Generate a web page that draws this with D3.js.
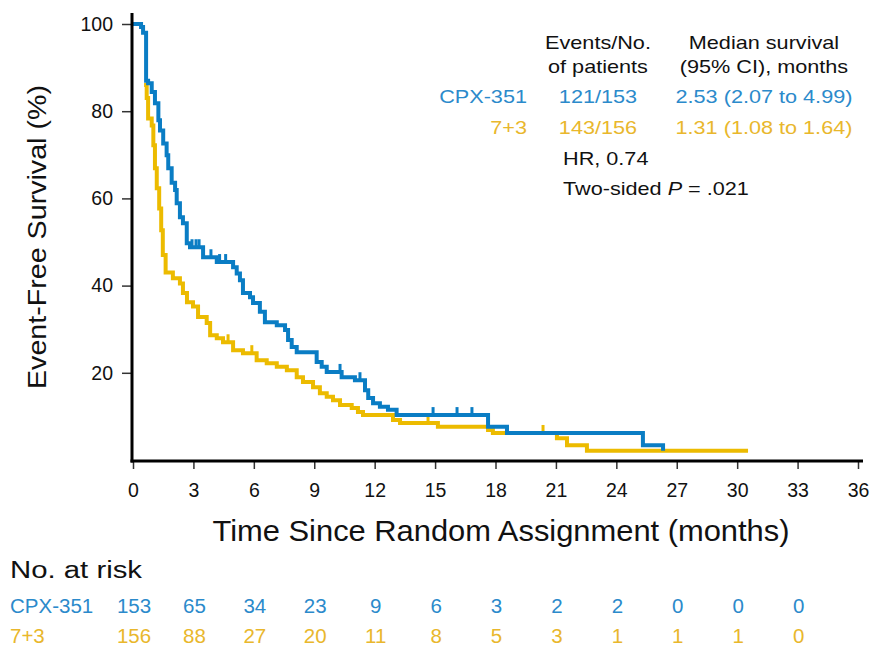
<!DOCTYPE html>
<html>
<head>
<meta charset="utf-8">
<script src="https://cdn.jsdelivr.net/npm/d3@7"></script>
<style>
  body { margin: 0; background: #fff; }
  svg { display: block; font-family: "Liberation Sans", Arial, Helvetica, sans-serif; }
</style>
</head>
<body>
<script>
// Event-free survival, CPX-351 vs 7+3

var blueColor = '#0a7dc4';
var yellowColor = '#ecbb00';
var blueText = '#2b8acb';
var yellowText = '#e9b72c';
var wide = 1.17; // the legend type is set a little wider than Arial

// CPX-351 curve: step times (months) and survival (%)
var cpxTimes = [0, 0.4, 0.5, 0.65, 0.75, 0.93, 1.09, 1.26, 1.34, 1.5, 1.67, 1.75, 1.92, 2.09, 2.17,
  2.33, 2.48, 2.67, 2.83, 3.48, 4.16, 4.97, 5.15, 5.31, 5.46, 5.81, 5.96, 6.3, 6.55, 7.14,
  7.55, 7.7, 7.88, 8.13, 9.12, 9.37, 9.62, 10.36, 11.02, 11.52, 11.68, 11.92, 12.26, 12.66,
  13.09, 17.63, 18.57, 25.32, 26.32];
var cpxSurv = [100, 99.3, 98, 87, 86.4, 84.4, 81.8, 77.9, 75.6, 72.6, 69.9, 66.9, 63.6, 61.9, 58.9,
  55.7, 54.3, 49.7, 48.8, 46.5, 45.4, 44.2, 42.8, 41.2, 38.3, 37.3, 36, 34, 31.6, 30.9,
  29.8, 27.5, 25.9, 24.7, 22.5, 21.4, 20.2, 19, 18.3, 16, 14.2, 13, 12.2, 11.5,
  10.3, 7.6, 6.2, 3.4, 2.1];
var cpxCensorTimes = [2.93, 3.13, 3.28, 3.87, 4.3, 4.6, 10.28, 11.27, 14.9, 16.09, 16.83];

// 7+3 curve
var ctlTimes = [0.55, 0.68, 0.75, 0.93, 1.01, 1.09, 1.18, 1.3, 1.4, 1.48, 1.62, 1.98, 2.33, 2.48,
  2.68, 2.98, 3.23, 3.66, 3.83, 4.16, 4.47, 4.97, 5.46, 6.14, 6.64, 7.14, 7.64, 8.13, 8.44,
  8.94, 9.28, 9.62, 9.93, 10.28, 10.86, 11.17, 11.42, 12.91, 13.26, 15.14, 17.63, 17.87,
  21.05, 21.55, 22.54, 30.54];
var ctlSurv = [86, 83, 78.3, 76.7, 72.2, 66.9, 62.3, 57.7, 52.7, 47, 43, 41.7, 40.5, 38.3,
  36.2, 35.2, 32.8, 31.4, 28.6, 27.9, 27, 25.2, 24.5, 22.9, 22.2, 21.4, 20.6, 19, 17.9,
  16.7, 15.3, 14.5, 13.7, 12.6, 11.9, 11, 10.3, 9.2, 8.5, 7.6, 6.9, 6.2,
  5.0, 3.4, 2.1, 2.1];
var ctlCensorTimes = [4.72, 5.9, 14.65, 20.36];

// ticks and risk table
var xTicks = d3.range(0, 37, 3);
var yTicks = [20, 40, 60, 80, 100];
var riskTimes = d3.range(0, 34, 3);
var riskCpx = [153, 65, 34, 23, 9, 6, 3, 2, 2, 0, 0, 0];
var riskCtl = [156, 88, 27, 20, 11, 8, 5, 3, 1, 1, 1, 0];

var width = 875, height = 646;

var svg = d3.select('body').append('svg')
  .attr('width', width)
  .attr('height', height);

var x = d3.scaleLinear().domain([0, 36]).range([133, 858]);
var y = d3.scaleLinear().domain([0, 100]).range([460, 24]);

// widen text glyphs by factor k (or to a fixed width)
var stretch = function(sel, k, w) {
  sel.each(function() {
    var n = this.getComputedTextLength();
    d3.select(this)
      .attr('textLength', w ? w : n * k)
      .attr('lengthAdjust', 'spacingAndGlyphs');
  });
};

// survival value at time t for a step curve
var survAt = function(times, surv, t) {
  var i = d3.bisectRight(times, t) - 1;
  return surv[Math.max(i, 0)];
};

var line = d3.line()
  .x(function(d) { return x(d[0]); })
  .y(function(d) { return y(d[1]); })
  .curve(d3.curveStepAfter);

svg.append('path')
  .attr('d', line(d3.zip(ctlTimes, ctlSurv)))
  .attr('fill', 'none')
  .attr('stroke', yellowColor)
  .attr('stroke-width', 4);

svg.selectAll('.ctlCensor')
  .data(ctlCensorTimes)
  .enter()
  .append('line')
  .attr('x1', function(d) { return x(d); })
  .attr('x2', function(d) { return x(d); })
  .attr('y1', function(d) { return y(survAt(ctlTimes, ctlSurv, d)); })
  .attr('y2', function(d) { return y(survAt(ctlTimes, ctlSurv, d)) - 8; })
  .attr('stroke', yellowColor)
  .attr('stroke-width', 3);

svg.append('path')
  .attr('d', line(d3.zip(cpxTimes, cpxSurv)))
  .attr('fill', 'none')
  .attr('stroke', blueColor)
  .attr('stroke-width', 4);

svg.selectAll('.cpxCensor')
  .data(cpxCensorTimes)
  .enter()
  .append('line')
  .attr('x1', function(d) { return x(d); })
  .attr('x2', function(d) { return x(d); })
  .attr('y1', function(d) { return y(survAt(cpxTimes, cpxSurv, d)); })
  .attr('y2', function(d) { return y(survAt(cpxTimes, cpxSurv, d)) - 8; })
  .attr('stroke', blueColor)
  .attr('stroke-width', 3);

// x axis
var xAxisG = svg.append('g').attr('transform', 'translate(0,461)');
xAxisG.call(d3.axisBottom(x).tickValues(d3.range(0, 37, 1)).tickSize(4).tickFormat(''));
xAxisG.call(d3.axisBottom(x).tickValues(xTicks).tickSize(8).tickFormat(d3.format('d')).tickPadding(14));
xAxisG.selectAll('.domain').remove();
xAxisG.selectAll('.tick line').attr('stroke', '#333').attr('stroke-width', 1.5);
xAxisG.attr('font-family', null);
xAxisG.selectAll('text')
  .style('font-size', '19.5px')
  .attr('fill', '#111');

// y axis
var yAxisG = svg.append('g').attr('transform', 'translate(132,0)');
yAxisG.call(d3.axisLeft(y).tickValues([10, 30, 50, 70, 90]).tickSize(5).tickFormat(''));
yAxisG.call(d3.axisLeft(y).tickValues(yTicks).tickSize(10).tickPadding(9).tickFormat(d3.format('d')));
yAxisG.selectAll('.domain').remove();
yAxisG.selectAll('.tick line').attr('stroke', '#333').attr('stroke-width', 1.5);
yAxisG.attr('font-family', null);
yAxisG.selectAll('text')
  .style('font-size', '19.5px')
  .attr('fill', '#111');

// axis lines
svg.append('line')
  .attr('x1', 132).attr('x2', 132)
  .attr('y1', 13).attr('y2', 462.5)
  .attr('stroke', '#000').attr('stroke-width', 3);
svg.append('line')
  .attr('x1', 130.5).attr('x2', 863)
  .attr('y1', 461).attr('y2', 461)
  .attr('stroke', '#000').attr('stroke-width', 3);

// axis titles
var yTitle = svg.append('text')
  .attr('transform', 'translate(46,237) rotate(-90)')
  .attr('text-anchor', 'middle')
  .style('font-size', '25px')
  .attr('fill', '#111')
  .text('Event-Free Survival (%)');
stretch(yTitle, 1, 304);

var xTitle = svg.append('text')
  .attr('x', 501).attr('y', 541)
  .attr('text-anchor', 'middle')
  .style('font-size', '30px')
  .attr('fill', '#111')
  .text('Time Since Random Assignment (months)');
stretch(xTitle, 1, 577);

// legend block
var leg = svg.append('g').style('font-size', '18.5px');
var legText = function(tx, ty, anchor, color, s) {
  return leg.append('text')
    .attr('x', tx).attr('y', ty)
    .attr('text-anchor', anchor)
    .attr('fill', color)
    .text(s);
};
legText(598, 49, 'middle', '#111', 'Events/No.');
legText(598, 73, 'middle', '#111', 'of patients');
legText(764, 49, 'middle', '#111', 'Median survival');
legText(764, 73, 'middle', '#111', '(95% CI), months');

legText(527, 103, 'end', blueText, 'CPX-351');
legText(598, 103, 'middle', blueText, '121/153');
legText(764, 103, 'middle', blueText, '2.53 (2.07 to 4.99)');

legText(527, 134, 'end', yellowText, '7+3');
legText(598, 134, 'middle', yellowText, '143/156');
legText(764, 134, 'middle', yellowText, '1.31 (1.08 to 1.64)');

legText(563, 165, 'start', '#111', 'HR, 0.74');
var pText = leg.append('text').attr('x', 563).attr('y', 195).attr('fill', '#111');
pText.append('tspan').text('Two-sided ');
pText.append('tspan').style('font-style', 'italic').text('P');
pText.append('tspan').text(' = .021');
stretch(leg.selectAll('text'), wide);

// risk table
var riskTitle = svg.append('text')
  .attr('x', 10).attr('y', 578)
  .style('font-size', '23px')
  .attr('fill', '#111')
  .text('No. at risk');
stretch(riskTitle, 1, 132);

var rows = [
  { label: 'CPX-351', values: riskCpx, color: blueText, y: 613 },
  { label: '7+3', values: riskCtl, color: yellowText, y: 643 }
];

rows.forEach(function(r) {
  var g = svg.append('g').style('font-size', '20.5px').attr('fill', r.color);
  g.append('text')
    .attr('x', 10).attr('y', r.y)
    .text(r.label);
  g.selectAll(null)
    .data(r.values)
    .enter()
    .append('text')
    .attr('x', function(d, i) { return x(riskTimes[i]) + 1; })
    .attr('y', r.y)
    .attr('text-anchor', 'middle')
    .text(function(d) { return d; });
});
</script>
</body>
</html>
